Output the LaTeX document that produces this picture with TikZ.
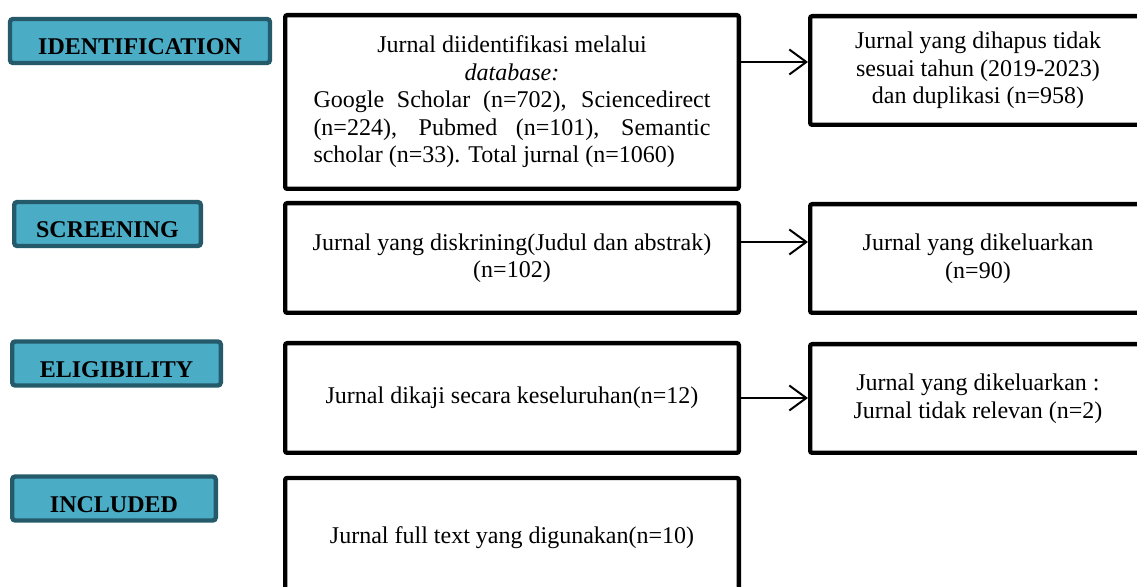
\documentclass[tikz,border=0pt]{standalone}
\usepackage{fontspec}
\setmainfont{Liberation Serif}
\usetikzlibrary{arrows.meta}
\definecolor{phasefill}{RGB}{75,172,198}
\definecolor{phaseline}{RGB}{36,90,106}
\begin{document}
\begin{tikzpicture}[x=0.5pt,y=-0.5pt,>={Straight Barb[length=8.5pt,width=12.5pt]}]

\tikzstyle{phase}=[rectangle,rounded corners=1.5pt,draw=phaseline,fill=phasefill,line width=2.2pt,inner sep=0pt,minimum height=22pt,text height=14pt,text depth=0pt,font=\fontsize{12}{14}\selectfont\bfseries]
\tikzstyle{record}=[rectangle,rounded corners=1pt,draw=black,line width=2.2pt,align=center,inner sep=0pt,minimum width=226.8pt,font=\fontsize{12}{13.75}\selectfont]
\tikzstyle{excluded}=[rectangle,rounded corners=1pt,draw=black,line width=2.2pt,align=center,inner sep=0pt,minimum width=167.8pt,minimum height=54.3pt,font=\fontsize{12}{13.75}\selectfont]

\useasboundingbox (0,0) rectangle (1137,587);
\clip (0,0) rectangle (1137,587);

%phase labels.
\node[phase,minimum width=130pt] (ident) at (140,41) {IDENTIFICATION};
\node[phase,minimum width=93.3pt] (screen) at (107.5,224) {SCREENING};
\node[phase,minimum width=104.3pt] (elig) at (116.5,363.5) {ELIGIBILITY};
\node[phase,minimum width=101.8pt] (incl) at (114,498.5) {INCLUDED};

%journal boxes.
\node[record,minimum height=86.8pt,text width=198.5pt,align=justify] (found) at (512,102) {{\centering Jurnal diidentifikasi melalui\\\textit{database:}\par}Google Scholar (n=702), Sciencedirect\linebreak (n=224), Pubmed (n=101), Semantic\linebreak scholar (n=33). Total jurnal (n=1060)};
\node[record,minimum height=54.8pt] (screened) at (512,258) {Jurnal yang diskrining(Judul dan abstrak)\\(n=102)};
\node[record,minimum height=54.8pt] (assessed) at (512,398) {Jurnal dikaji secara keseluruhan(n=12)};
\node[record,minimum height=60pt] (used) at (512,538) {Jurnal full text yang digunakan(n=10)};

\node[excluded] (removed) at (978,70.5) {Jurnal yang dihapus tidak\\sesuai tahun (2019-2023)\\dan duplikasi (n=958)};
\node[excluded] (dropped) at (978,258.5) {Jurnal yang dikeluarkan\\(n=90)};
\node[excluded] (irrelevant) at (978,398.5) {Jurnal yang dikeluarkan :\\Jurnal tidak relevan (n=2)};

\draw[->,line width=1pt] ([yshift=20pt]found.east) -- ([yshift=20pt]found.east -| removed.west);
\draw[->,line width=1pt] ([yshift=8pt]screened.east) -- ([yshift=8pt]screened.east -| dropped.west);
\draw[->,line width=1pt] (assessed.east) -- (assessed.east -| irrelevant.west);

\end{tikzpicture}
\end{document}
